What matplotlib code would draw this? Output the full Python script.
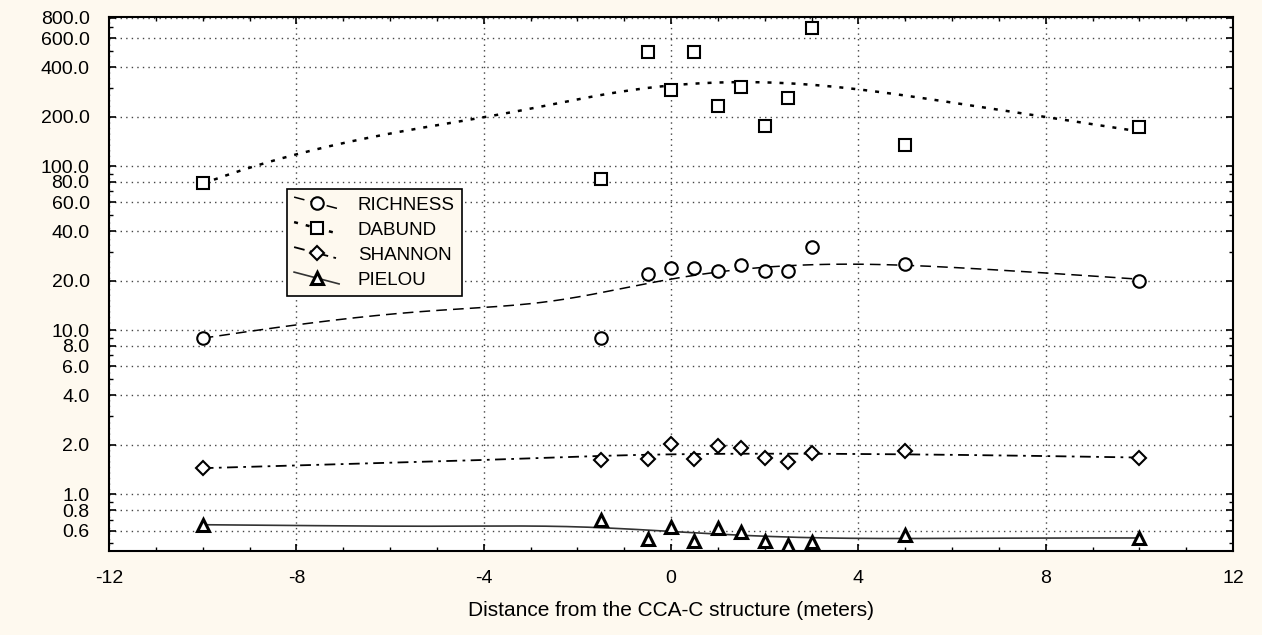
import numpy as np
import matplotlib
matplotlib.use("Agg")
import matplotlib.pyplot as plt
from matplotlib.ticker import FixedLocator, FuncFormatter
from matplotlib.legend_handler import HandlerLine2D

plt.rcParams["axes.unicode_minus"] = False

# ---- data ----
distance = [-10, -1.5, -0.5, 0, 0.5, 1, 1.5, 2, 2.5, 3, 5, 10]
richness = [9.0, 9.0, 21.9, 23.9, 23.9, 22.9, 24.9, 22.9, 22.9, 32.0, 25.3, 20.0]
dabund = [79, 83, 496, 291, 496, 232, 303, 175, 260, 694, 134, 173]
shannon = [1.44, 1.61, 1.63, 2.02, 1.63, 1.96, 1.91, 1.66, 1.57, 1.78, 1.83, 1.66]
pielou = [0.65, 0.70, 0.53, 0.63, 0.52, 0.62, 0.59, 0.52, 0.49, 0.51, 0.56, 0.54]

series_names = ["RICHNESS", "DABUND", "SHANNON", "PIELOU"]
y_ticks = [0.6, 0.8, 1.0, 2.0, 4.0, 6.0, 8.0, 10.0, 20.0, 40.0, 60.0, 80.0,
           100.0, 200.0, 400.0, 600.0, 800.0]
x_ticks = [-12, -8, -4, 0, 4, 8, 12]
x_label = "Distance from the CCA-C structure (meters)"

BG = "#FEF9EF"


def dwls(x, y, grid, h=5.0, deg=1):
    """Distance-weighted local polynomial least squares smoother."""
    x = np.asarray(x, float)
    y = np.asarray(y, float)
    out = []
    for g in grid:
        w = np.exp(-((x - g) / h) ** 2)
        X = np.vander(x - g, deg + 1)
        W = np.sqrt(w)
        coef, *_ = np.linalg.lstsq(X * W[:, None], y * W, rcond=None)
        out.append(coef[-1])
    return np.array(out)


class SlantHandler(HandlerLine2D):
    def create_artists(self, legend, orig_handle, xdescent, ydescent,
                       width, height, fontsize, trans):
        arts = super().create_artists(legend, orig_handle, xdescent, ydescent,
                                      width, height, fontsize, trans)
        x0 = -xdescent
        x1 = -xdescent + width
        mid = (height - ydescent) / 2
        for a in arts:
            n = len(a.get_xdata())
            if n == 3:
                a.set_data([x0, (x0 + x1) / 2, x1],
                           [mid + height * 0.45, mid, mid - height * 0.45])
            elif n == 1:
                a.set_data([(x0 + x1) / 2], [mid])
        return arts


fig = plt.figure(figsize=(12.62, 6.35), dpi=100, facecolor=BG)
ax = fig.add_axes([109 / 1262, 1 - 551 / 635, 1124 / 1262, 534 / 635])
ax.set_facecolor("white")
ax.set_yscale("log")
ax.set_xlim(-12, 12)
ax.set_ylim(0.45, 810)

grid = np.linspace(-10, 10, 400)
x = np.array(distance)

specs = [
    (richness, "o", (0, (7, 4)), 1.1, "black"),
    (dabund, "s", (0, (1.6, 3.2)), 1.8, "black"),
    (shannon, "D", (0, (6, 3, 1.5, 3)), 1.3, "black"),
    (pielou, "^", "-", 1.2, "#333333"),
]
handles = []
for (vals, mk, ls, lw, col), name in zip(specs, series_names):
    smooth = dwls(x, vals, grid)
    ax.plot(grid, smooth, linestyle=ls, color=col, lw=lw, zorder=3)
    ms = 7.0 if mk == "D" else 9.0
    mew = 2.2 if mk == "^" else 1.5
    ax.plot(x, vals, linestyle="none", marker=mk, ms=ms, mfc="white",
            mec="black", mew=mew, zorder=4)
    h, = ax.plot([], [], linestyle=ls, color=col, lw=lw, marker=mk, ms=ms,
                 mfc="white", mec="black", mew=mew)
    handles.append(h)

ax.yaxis.set_major_locator(FixedLocator(y_ticks))
ax.yaxis.set_minor_locator(FixedLocator([0.5, 0.7, 0.9, 3, 5, 7, 9, 30, 50, 70, 90,
                                         300, 500, 700]))
ax.yaxis.set_major_formatter(FuncFormatter(lambda v, p: f"{v:.1f}"))
ax.yaxis.set_minor_formatter(FuncFormatter(lambda v, p: ""))
ax.xaxis.set_major_locator(FixedLocator(x_ticks))
ax.xaxis.set_major_formatter(FuncFormatter(lambda v, p: f"{int(round(v))}"))
ax.xaxis.set_minor_locator(FixedLocator(np.arange(-12, 13, 1)))

ax.grid(True, which="major", axis="both", linestyle=(0, (1, 3)), color="#444444", lw=1.0)
ax.set_axisbelow(True)
ax.tick_params(which="both", direction="in", top=True, right=True, color="black")
ax.tick_params(which="major", length=5, width=1.2)
ax.tick_params(which="minor", length=3, width=1.0)
ax.tick_params(axis="y", labelsize=14, pad=14)
ax.tick_params(axis="x", labelsize=14, pad=14)
for s in ax.spines.values():
    s.set_linewidth(1.5)
    s.set_color("black")

for lab in ax.get_yticklabels():
    lab.set_family(["Liberation Sans", "DejaVu Sans"])
for lab in ax.get_xticklabels():
    lab.set_family(["Liberation Sans", "DejaVu Sans"])

ax.set_xlabel(x_label, fontsize=15,
              family=["Liberation Sans", "DejaVu Sans"],
              labelpad=10)

leg = ax.legend(handles, series_names, loc="upper left",
                bbox_to_anchor=(0.158, 0.678), borderaxespad=0,
                handler_map={h: SlantHandler() for h in handles},
                prop={"family": ["Liberation Sans", "DejaVu Sans"], "size": 13.5},
                frameon=True, fancybox=False, edgecolor="black",
                facecolor=BG, framealpha=1, handlelength=2.4,
                labelspacing=0.42, borderpad=0.4, handletextpad=1.0)
leg.get_frame().set_linewidth(1.2)
leg.set_zorder(10)

fig.savefig("out.png", dpi=100, facecolor=BG)
